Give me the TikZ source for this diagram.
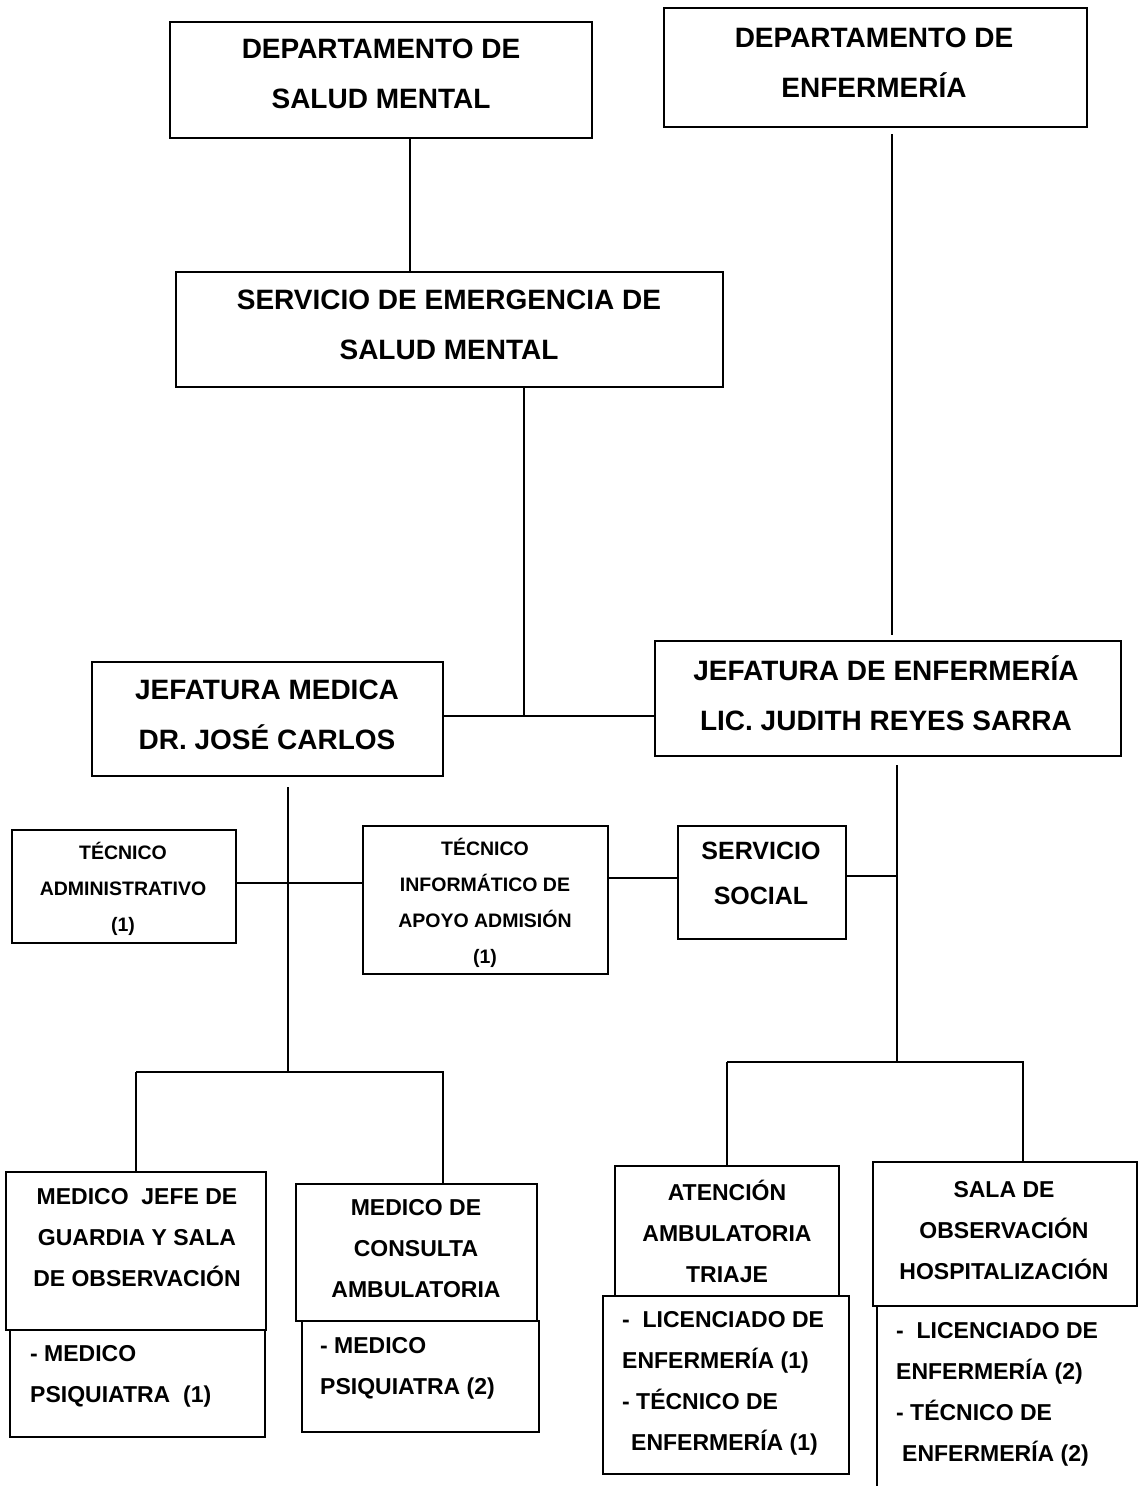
\documentclass[tikz,border=0pt]{standalone}
\usepackage{fontspec}
\setmainfont{Liberation Sans}
\begin{document}
\begin{tikzpicture}[x=1pt,y=-1pt,
  box/.style={draw=black,line width=2.4pt,inner sep=0pt},
  ghost/.style={inner sep=0pt},
  wire/.style={line width=2.2pt},
  tbig/.style={inner sep=0pt,align=center,font=\fontsize{28}{50}\selectfont\bfseries},
  tmid/.style={inner sep=0pt,align=center,font=\fontsize{25}{45}\selectfont\bfseries},
  tbot/.style={inner sep=0pt,align=center,font=\fontsize{23}{41}\selectfont\bfseries},
  tbotl/.style={inner sep=0pt,align=left,anchor=west,font=\fontsize{23}{41}\selectfont\bfseries},
  tsmall/.style={inner sep=0pt,align=center,font=\fontsize{19.5}{36}\selectfont\bfseries}]
\useasboundingbox[fill=white] (0,0) rectangle (1139,1486);

% boxes
\node[box,minimum width=422pt,minimum height=116pt] (dsm) at (381,80) {};
\node[tbig] (dsmT) at (381,74) {DEPARTAMENTO DE\\SALUD MENTAL};

\node[box,minimum width=423pt,minimum height=119pt] (den) at (875.5,67.5) {};
\node[tbig] (denT) at (874,63) {DEPARTAMENTO DE\\ENFERMERÍA};

\node[box,minimum width=547pt,minimum height=115pt] (sem) at (449.5,329.5) {};
\node[tbig] (semT) at (449,325) {SERVICIO DE EMERGENCIA DE\\SALUD MENTAL};

\node[box,minimum width=351pt,minimum height=114pt] (jm) at (267.5,719) {};
\node[tbig] (jmT) at (267,715) {JEFATURA MEDICA\\DR. JOSÉ CARLOS};

\node[box,minimum width=466pt,minimum height=115pt] (je) at (888,698.5) {};
\node[tbig] (jeT) at (886,693) {JEFATURA DE ENFERMERÍA\\LIC. JUDITH REYES SARRA};

\node[box,minimum width=224pt,minimum height=113pt] (ta) at (124,886.5) {};
\node[tsmall] (taT) at (123,889) {TÉCNICO\\ADMINISTRATIVO\\(1)};

\node[box,minimum width=245pt,minimum height=148pt] (ti) at (485.5,900) {};
\node[tsmall] (tiT) at (485,902.5) {TÉCNICO\\INFORMÁTICO DE\\APOYO ADMISIÓN\\(1)};

\node[box,minimum width=168pt,minimum height=113pt] (ss) at (762,882.5) {};
\node[tmid] (ssT) at (761,873.5) {SERVICIO\\SOCIAL};

\node[box,minimum width=260pt,minimum height=158pt] (mj) at (136,1251) {};
\node[tbot] (mjT) at (137,1238) {MEDICO\ \ JEFE DE\\GUARDIA Y SALA\\DE OBSERVACIÓN};
\node[box,minimum width=255pt,minimum height=107pt] (mjL) at (137.5,1383.5) {};
\node[tbotl] (mjLT) at (30,1376) {- MEDICO\\PSIQUIATRA\ \ (1)};

\node[box,minimum width=241pt,minimum height=137pt] (mc) at (416.5,1252.5) {};
\node[tbot] (mcT) at (416,1249) {MEDICO DE\\CONSULTA\\AMBULATORIA};
\node[box,minimum width=237pt,minimum height=111pt] (mcL) at (420.5,1376.5) {};
\node[tbotl] (mcLT) at (320,1368) {- MEDICO\\PSIQUIATRA (2)};

\node[box,minimum width=224pt,minimum height=130pt] (at) at (727,1231) {};
\node[tbot] (atT) at (727,1231) {ATENCIÓN\\AMBULATORIA\\TRIAJE};
\node[box,minimum width=246pt,minimum height=178pt] (atL) at (726,1385) {};
\node[tbotl] (atLT) at (622,1383) {-\ \ LICENCIADO DE\\ENFERMERÍA (1)\\- TÉCNICO DE\\\hspace*{9pt}ENFERMERÍA (1)};

\node[box,minimum width=264pt,minimum height=144pt] (sa) at (1005,1234) {};
\node[tbot] (saT) at (1004,1231) {SALA DE\\OBSERVACIÓN\\HOSPITALIZACIÓN};
\node[ghost,minimum width=260pt,minimum height=180pt] (saL) at (1007,1396) {};
\node[tbotl] (saLT) at (896,1394) {-\ \ LICENCIADO DE\\ENFERMERÍA (2)\\- TÉCNICO DE\\\hspace*{6pt}ENFERMERÍA (2)};
\draw[box] (saL.north west) -- (saL.south west);

% junction coordinates
\coordinate (c1) at (410,0);
\coordinate (c2) at (892,0);
\coordinate (j1) at (524,716);
\coordinate (j2) at (288,1072);
\coordinate (d2) at (443,1072);
\coordinate (j3) at (897,1062);
\coordinate (d3) at (1023,1062);
\coordinate (h1) at (0,883);
\coordinate (h2) at (0,878);
\coordinate (h3) at (0,876);

% connectors
\draw[wire] (dsm.south -| c1) -- (sem.north -| c1);
\draw[wire] ([yshift=-6pt]den.south -| c2) -- ([yshift=5pt]je.north -| c2);
\draw[wire] (sem.south -| j1) -- (j1);
\draw[wire] (jm.east |- j1) -- (je.west |- j1);
\draw[wire] ([yshift=-10pt]jm.south -| j2) -- (j2);
\draw[wire] (mj.north |- j2) -- (d2) -- (mc.north -| d2);
\draw[wire] (j2 -| mj.north) -- (mj.north);
\draw[wire] (ta.east |- h1) -- (ti.west |- h1);
\draw[wire] (ti.east |- h2) -- (ss.west |- h2);
\draw[wire] (ss.east |- h3) -- (j3 |- h3);
\draw[wire] ([yshift=-8pt]je.south -| j3) -- (j3);
\draw[wire] (at.north |- j3) -- (d3) -- (sa.north -| d3);
\draw[wire] (j3 -| at.north) -- (at.north);
\end{tikzpicture}
\end{document}
